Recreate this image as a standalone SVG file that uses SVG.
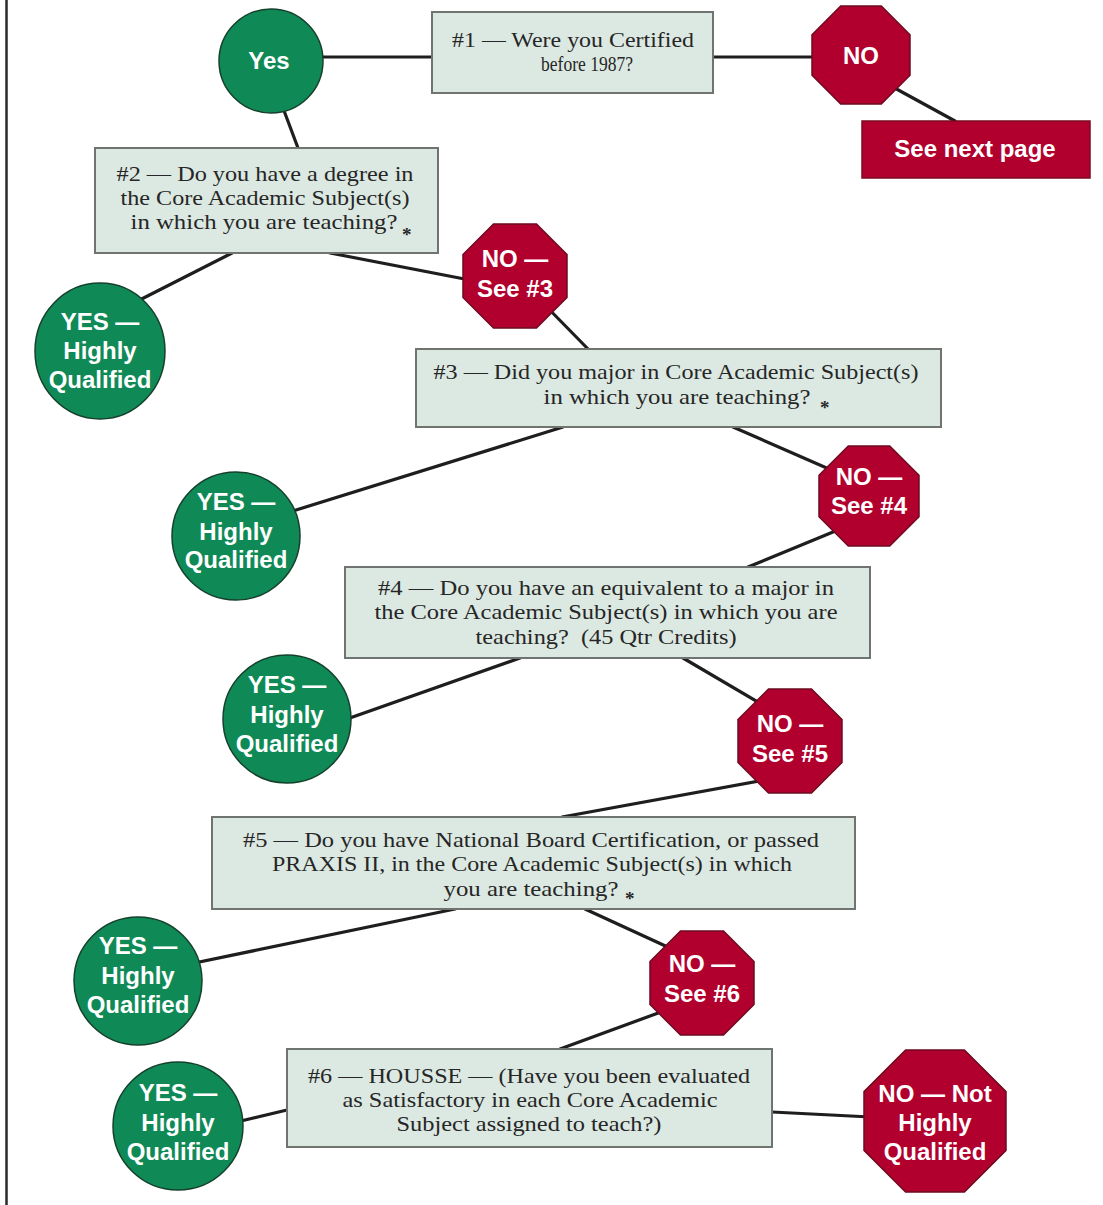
<svg xmlns="http://www.w3.org/2000/svg" width="1103" height="1205" viewBox="0 0 1103 1205">
<style>
.bg{fill:#ffffff}
.frame{stroke:#2a2a2a;stroke-width:2.5}
.conn line{stroke:#1e1e1e;stroke-width:3.2;stroke-linecap:round}
.box{fill:#dce9e2;stroke:#6f7471;stroke-width:2}
.q{font-family:"Liberation Serif","Times New Roman",serif;font-size:21px;fill:#262626;text-anchor:middle}
.star{font-family:"Liberation Serif",serif;font-size:19px;font-weight:bold;fill:#262626}
.yes{fill:#0f8a57;stroke:#15402c;stroke-width:1.5}
.no{fill:#b2002e;stroke:#6e0a20;stroke-width:1.5}
.rbox{fill:#b2002e;stroke:#7a0a22;stroke-width:1.5}
.lbl{font-family:"Liberation Sans",Arial,sans-serif;font-weight:bold;font-size:24px;fill:#ffffff;text-anchor:middle}
</style>
<rect class="bg" x="0" y="0" width="1103" height="1205"/>
<line class="frame" x1="6.5" y1="0" x2="6.5" y2="1205"/>

<g id="connectors" class="conn">
<line x1="300" y1="57" x2="432" y2="57"/>
<line x1="713" y1="57" x2="830" y2="57"/>
<line x1="880" y1="80" x2="955" y2="121"/>
<line x1="280" y1="100" x2="298" y2="148"/>
<line x1="232" y1="253" x2="120" y2="310"/>
<line x1="330" y1="253" x2="480" y2="282"/>
<line x1="540" y1="300" x2="588" y2="349"/>
<line x1="563" y1="427" x2="280" y2="515"/>
<line x1="733" y1="427" x2="845" y2="476"/>
<line x1="850" y1="525" x2="748" y2="567"/>
<line x1="520" y1="658" x2="330" y2="725"/>
<line x1="683" y1="658" x2="775" y2="712"/>
<line x1="775" y1="778" x2="562" y2="817"/>
<line x1="455" y1="909" x2="180" y2="966"/>
<line x1="585" y1="909" x2="685" y2="955"/>
<line x1="680" y1="1005" x2="560" y2="1049"/>
<line x1="287" y1="1110" x2="220" y2="1126"/>
<line x1="772" y1="1112" x2="890" y2="1118"/>
</g>

<g id="q1">
<rect class="box" x="432" y="12" width="281" height="81"/>
<text class="q" x="573" y="47" textLength="242" lengthAdjust="spacingAndGlyphs">#1 — Were you Certified</text>
<text class="q" x="587" y="71" textLength="92" lengthAdjust="spacingAndGlyphs">before 1987?</text>
</g>

<g id="yes0">
<circle class="yes" cx="271" cy="61" r="52"/>
<text class="lbl" x="269" y="69">Yes</text>
</g>

<g id="no0">
<polygon class="no" points="840.7,6 881.3,6 910,34.7 910,75.3 881.3,104 840.7,104 812,75.3 812,34.7"/>
<text class="lbl" x="861" y="64">NO</text>
</g>

<g id="nextpage">
<rect class="rbox" x="862" y="121" width="228" height="57"/>
<text class="lbl" x="975" y="157">See next page</text>
</g>

<g id="q2">
<rect class="box" x="95" y="148" width="343" height="105"/>
<text class="q" x="265" y="181" textLength="297" lengthAdjust="spacingAndGlyphs">#2 — Do you have a degree in</text>
<text class="q" x="265" y="205" textLength="289" lengthAdjust="spacingAndGlyphs">the Core Academic Subject(s)</text>
<text class="q" x="264" y="229" textLength="267" lengthAdjust="spacingAndGlyphs">in which you are teaching?</text>
<text class="star" x="402" y="241">*</text>
</g>

<g id="yes2">
<ellipse class="yes" cx="100" cy="351" rx="65" ry="68"/>
<text class="lbl" x="100" y="330">YES —</text>
<text class="lbl" x="100" y="359">Highly</text>
<text class="lbl" x="100" y="388">Qualified</text>
</g>

<g id="no2">
<polygon class="no" points="493.5,224 536.5,224 567,254.5 567,297.5 536.5,328 493.5,328 463,297.5 463,254.5"/>
<text class="lbl" x="515" y="267">NO —</text>
<text class="lbl" x="515" y="297">See #3</text>
</g>

<g id="q3">
<rect class="box" x="416" y="349" width="525" height="78"/>
<text class="q" x="676" y="379" textLength="485" lengthAdjust="spacingAndGlyphs">#3 — Did you major in Core Academic Subject(s)</text>
<text class="q" x="677" y="404" textLength="267" lengthAdjust="spacingAndGlyphs">in which you are teaching?</text>
<text class="star" x="820" y="414">*</text>
</g>

<g id="yes3">
<ellipse class="yes" cx="236" cy="536" rx="64" ry="64"/>
<text class="lbl" x="236" y="510">YES —</text>
<text class="lbl" x="236" y="540">Highly</text>
<text class="lbl" x="236" y="568">Qualified</text>
</g>

<g id="no3">
<polygon class="no" points="848.3,446 889.7,446 919,475.3 919,516.7 889.7,546 848.3,546 819,516.7 819,475.3"/>
<text class="lbl" x="869" y="485">NO —</text>
<text class="lbl" x="869" y="514">See #4</text>
</g>

<g id="q4">
<rect class="box" x="345" y="567" width="525" height="91"/>
<text class="q" x="606" y="595" textLength="456" lengthAdjust="spacingAndGlyphs">#4 — Do you have an equivalent to a major in</text>
<text class="q" x="606" y="619" textLength="463" lengthAdjust="spacingAndGlyphs">the Core Academic Subject(s) in which you are</text>
<text class="q" x="606" y="644" textLength="261" lengthAdjust="spacingAndGlyphs">teaching?&#160; (45 Qtr Credits)</text>
</g>

<g id="yes4">
<ellipse class="yes" cx="287" cy="719" rx="64" ry="64"/>
<text class="lbl" x="287" y="693">YES —</text>
<text class="lbl" x="287" y="723">Highly</text>
<text class="lbl" x="287" y="752">Qualified</text>
</g>

<g id="no4">
<polygon class="no" points="768.5,689 811.5,689 842,719.5 842,762.5 811.5,793 768.5,793 738,762.5 738,719.5"/>
<text class="lbl" x="790" y="732">NO —</text>
<text class="lbl" x="790" y="762">See #5</text>
</g>

<g id="q5">
<rect class="box" x="212" y="817" width="643" height="92"/>
<text class="q" x="531" y="847" textLength="576" lengthAdjust="spacingAndGlyphs">#5 — Do you have National Board Certification, or passed</text>
<text class="q" x="532" y="871" textLength="520" lengthAdjust="spacingAndGlyphs">PRAXIS II, in the Core Academic Subject(s) in which</text>
<text class="q" x="531" y="896" textLength="175" lengthAdjust="spacingAndGlyphs">you are teaching?</text>
<text class="star" x="625" y="905">*</text>
</g>

<g id="yes5">
<ellipse class="yes" cx="138" cy="981" rx="64" ry="64"/>
<text class="lbl" x="138" y="954">YES —</text>
<text class="lbl" x="138" y="984">Highly</text>
<text class="lbl" x="138" y="1013">Qualified</text>
</g>

<g id="no5">
<polygon class="no" points="680.5,931 723.5,931 754,961.5 754,1004.5 723.5,1035 680.5,1035 650,1004.5 650,961.5"/>
<text class="lbl" x="702" y="972">NO —</text>
<text class="lbl" x="702" y="1002">See #6</text>
</g>

<g id="q6">
<rect class="box" x="287" y="1049" width="485" height="98"/>
<text class="q" x="529" y="1083" textLength="442" lengthAdjust="spacingAndGlyphs">#6 — HOUSSE — (Have you been evaluated</text>
<text class="q" x="530" y="1107" textLength="375" lengthAdjust="spacingAndGlyphs">as Satisfactory in each Core Academic</text>
<text class="q" x="529" y="1131" textLength="265" lengthAdjust="spacingAndGlyphs">Subject assigned to teach?)</text>
</g>

<g id="yes6">
<ellipse class="yes" cx="178" cy="1126" rx="65" ry="64"/>
<text class="lbl" x="178" y="1101">YES —</text>
<text class="lbl" x="178" y="1131">Highly</text>
<text class="lbl" x="178" y="1160">Qualified</text>
</g>

<g id="no6">
<polygon class="no" points="905.6,1050 964.4,1050 1006,1091.6 1006,1150.4 964.4,1192 905.6,1192 864,1150.4 864,1091.6"/>
<text class="lbl" x="935" y="1102">NO — Not</text>
<text class="lbl" x="935" y="1131">Highly</text>
<text class="lbl" x="935" y="1160">Qualified</text>
</g>
</svg>
